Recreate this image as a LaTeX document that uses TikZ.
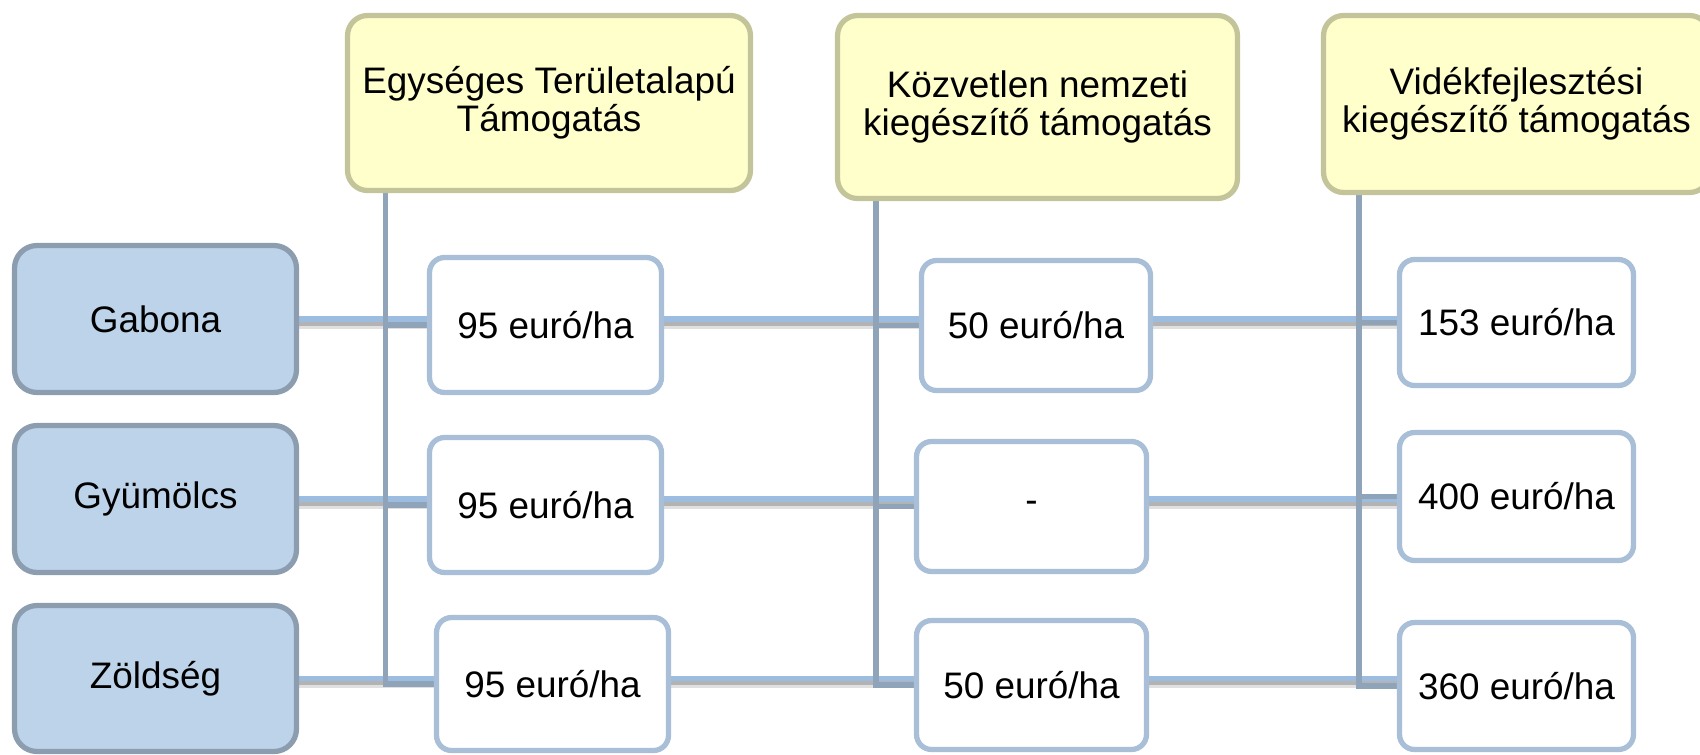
\documentclass[tikz,border=0pt]{standalone}
\usepackage{fontspec}
\setmainfont{Liberation Sans}
\usetikzlibrary{backgrounds}

\definecolor{hdrfill}{HTML}{FFFFCC}
\definecolor{hdrline}{HTML}{C4C49B}
\definecolor{catfill}{HTML}{BDD3EA}
\definecolor{catline}{HTML}{8C9DB0}
\definecolor{valline}{HTML}{A8BFD7}
\definecolor{linkblue}{HTML}{9DBDE0}
\definecolor{stemgray}{HTML}{8FA3B9}

\begin{document}
\begin{tikzpicture}[x=0.02cm,y=-0.02cm,
  every node/.style={font=\fontsize{21}{21.6}\selectfont,align=center,line width=3pt},
  hdr/.style 2 args={draw=hdrline,fill=hdrfill,rounded corners=0.4cm,minimum width=#1cm,minimum height=#2cm},
  cat/.style={draw=catline,fill=catfill,rounded corners=0.45cm,minimum width=5.64cm,minimum height=2.94cm},
  val/.style 2 args={draw=valline,fill=white,rounded corners=0.3cm,minimum width=#1cm,minimum height=#2cm},
  link/.style={draw=linkblue,line width=3.1pt,
    preaction={draw=black,opacity=.12,line width=4.5pt,transform canvas={yshift=-3.2pt}},
    preaction={draw=black,opacity=.2,line width=3pt,transform canvas={yshift=-2.2pt}}},
  stem/.style={draw=stemgray,line width=3pt}]
\useasboundingbox (0,0) rectangle (1700,754);

% support types
\node[hdr={8.06}{3.5}] (hA) at (549,103) {Egységes Területalapú\\Támogatás};
\node[hdr={8.0}{3.66}] (hB) at (1037.5,107) {Közvetlen nemzeti\\kiegészítő támogatás};
\node[hdr={7.72}{3.54}] (hC) at (1516.5,104) {Vidékfejlesztési\\kiegészítő támogatás};

% crops
\node[cat] (gab) at (155.5,319) {Gabona};
\node[cat] (gyu) at (155.5,499) {Gyümölcs};
\node[cat,minimum height=2.92cm] (zol) at (155.5,678.5) {Zöldség};

% amounts
\node[val={4.64}{2.7}] (v11) at (545.5,325) {95 euró/ha};
\node[val={4.64}{2.7}] (v12) at (545.5,505) {95 euró/ha};
\node[val={4.64}{2.66}] (v13) at (552.5,684) {95 euró/ha};
\node[val={4.58}{2.6}] (v21) at (1036,325.5) {50 euró/ha};
\node[val={4.6}{2.6}] (v22) at (1031.5,506.5) {-};
\node[val={4.6}{2.58}] (v23) at (1031.5,685) {50 euró/ha};
\node[val={4.68}{2.52}] (v31) at (1516.5,322.5) {153 euró/ha};
\node[val={4.68}{2.56}] (v32) at (1516.5,496.5) {400 euró/ha};
\node[val={4.68}{2.54}] (v33) at (1516.5,686) {360 euró/ha};

\coordinate (tA) at (385.5,0);
\coordinate (tB) at (876,0);
\coordinate (tC) at (1359,0);

\begin{scope}[on background layer]
% rows
\foreach \c/\r in {gab/1,gyu/2,zol/3}
  \draw[link] (\c.east) -- (\c -| v1\r.west)
              (\c -| v1\r.east) -- (\c -| v2\r.west)
              (\c -| v2\r.east) -- (\c -| v3\r.west);
% columns
\draw[stem] (tA |- hA.south) |- (v13.west);
\draw[stem] (tB |- hB.south) |- (v23.west);
\draw[stem] (tC |- hC.south) |- (v33.west);
\foreach \k/\t in {1/tA,2/tB,3/tC} {
  \draw[stem] (\t |- v\k1.west) -- (v\k1.west);
  \draw[stem] (\t |- v\k2.west) -- (v\k2.west);
}
\end{scope}
\end{tikzpicture}
\end{document}
